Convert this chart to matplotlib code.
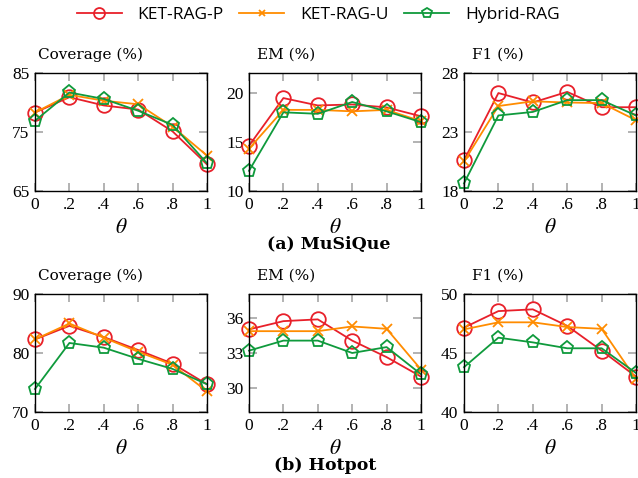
import matplotlib
matplotlib.use("Agg")
import matplotlib.pyplot as plt

plt.rcParams["mathtext.fontset"] = "stix"

theta = [0, 0.2, 0.4, 0.6, 0.8, 1.0]
theta_labels = ["0", ".2", ".4", ".6", ".8", "1"]
methods = ["KET-RAG-P", "KET-RAG-U", "Hybrid-RAG"]

# (a) MuSiQue
musique_cov_p = [78.3, 80.9, 79.5, 78.8, 75.1, 69.5]
musique_cov_u = [78.3, 81.3, 80.3, 79.7, 75.9, 71.0]
musique_cov_h = [76.9, 81.7, 80.6, 78.6, 76.2, 69.7]
musique_em_p = [14.6, 19.45, 18.7, 18.8, 18.5, 17.6]
musique_em_u = [14.3, 18.25, 18.25, 18.1, 18.25, 17.1]
musique_em_h = [12.05, 18.0, 17.85, 19.05, 18.1, 17.0]
musique_f1_p = [20.6, 26.3, 25.5, 26.4, 25.1, 25.1]
musique_f1_u = [20.5, 25.2, 25.6, 25.5, 25.45, 24.0]
musique_f1_h = [18.65, 24.4, 24.7, 25.7, 25.7, 24.4]

# (b) Hotpot
hotpot_cov_p = [82.3, 84.6, 82.7, 80.5, 78.2, 74.7]
hotpot_cov_u = [82.3, 85.0, 82.6, 80.2, 78.0, 73.5]
hotpot_cov_h = [73.9, 81.7, 80.9, 79.0, 77.3, 74.7]
hotpot_em_p = [35.0, 35.7, 35.85, 34.05, 32.65, 31.0]
hotpot_em_u = [34.85, 34.85, 34.85, 35.25, 35.05, 31.6]
hotpot_em_h = [33.2, 34.05, 34.05, 33.0, 33.5, 31.2]
hotpot_f1_p = [47.15, 48.55, 48.7, 47.3, 45.2, 43.0]
hotpot_f1_u = [47.0, 47.6, 47.6, 47.2, 47.05, 42.8]
hotpot_f1_h = [43.8, 46.3, 45.9, 45.4, 45.4, 43.3]

colors = ["#e8202a", "#ff8c00", "#0f9a3c"]
markers = ["o", "x", "p"]
msizes = [10.5, 6.5, 9.5]

SERIF = ["Liberation Serif", "DejaVu Serif"]
WIDE_SERIF = ["DejaVu Serif"]

panels = [
    # row, col, title, series, ylim, yticks
    (0, 0, "Coverage (%)", [musique_cov_p, musique_cov_u, musique_cov_h], (65, 85), [65, 75, 85]),
    (0, 1, "EM (%)", [musique_em_p, musique_em_u, musique_em_h], (10, 22), [10, 15, 20]),
    (0, 2, "F1 (%)", [musique_f1_p, musique_f1_u, musique_f1_h], (18, 28), [18, 23, 28]),
    (1, 0, "Coverage (%)", [hotpot_cov_p, hotpot_cov_u, hotpot_cov_h], (70, 90), [70, 80, 90]),
    (1, 1, "EM (%)", [hotpot_em_p, hotpot_em_u, hotpot_em_h], (28, 38), [30, 33, 36]),
    (1, 2, "F1 (%)", [hotpot_f1_p, hotpot_f1_u, hotpot_f1_h], (40, 50), [40, 45, 50]),
]

W, H = 638, 478
fig = plt.figure(figsize=(W / 100, H / 100), dpi=100)

lefts = [35, 249, 464]
tops = [73, 294]
aw, ah = 172, 118
title_dx = [3, 8, 8]

handles = []
for row, col, title, series, ylim, yticks in panels:
    ax = fig.add_axes([lefts[col] / W, 1 - (tops[row] + ah) / H, aw / W, ah / H])
    for i, ys in enumerate(series):
        ln, = ax.plot(theta, ys, color=colors[i], marker=markers[i], markersize=msizes[i],
                      markerfacecolor="none", markeredgewidth=1.3, linewidth=1.3,
                      label=methods[i], clip_on=False)
        if row == 0 and col == 0:
            handles.append(ln)
    ax.set_xlim(0, 1)
    ax.set_ylim(*ylim)
    ax.set_xticks(theta)
    ax.set_xticklabels(theta_labels)
    ax.set_yticks(yticks)
    ax.tick_params(direction="in", length=5.5, width=1.2, color="#a6a6a6",
                   top=True, right=True, labelsize=12.5, pad=4)
    for lab in ax.get_xticklabels() + ax.get_yticklabels():
        lab.set_family(SERIF)
    for sp in ax.spines.values():
        sp.set_linewidth(1.0)
    ax.text(title_dx[col] / aw, 1 + 18 / ah, title, transform=ax.transAxes,
            ha="left", va="center", fontsize=11, family=WIDE_SERIF)
    ax.text(0.5, -36 / ah, r"$\theta$", transform=ax.transAxes,
            ha="center", va="center", fontsize=15.5)

fig.text(329 / W, 1 - 244 / H, "(a) MuSiQue", ha="center", va="center",
         fontsize=12.5, fontweight="bold", family=WIDE_SERIF)
fig.text(325 / W, 1 - 466 / H, "(b) Hotpot", ha="center", va="center",
         fontsize=12.5, fontweight="bold", family=WIDE_SERIF)

fig.legend(handles=handles, loc="center", bbox_to_anchor=(318 / W, 1 - 15 / H),
           ncol=3, frameon=False, handlelength=2.6, markerscale=0.75,
           columnspacing=0.9, handletextpad=0.9,
           prop={"family": ["Open Sans", "DejaVu Sans"], "size": 12.5})

fig.savefig("out.png", dpi=100)
